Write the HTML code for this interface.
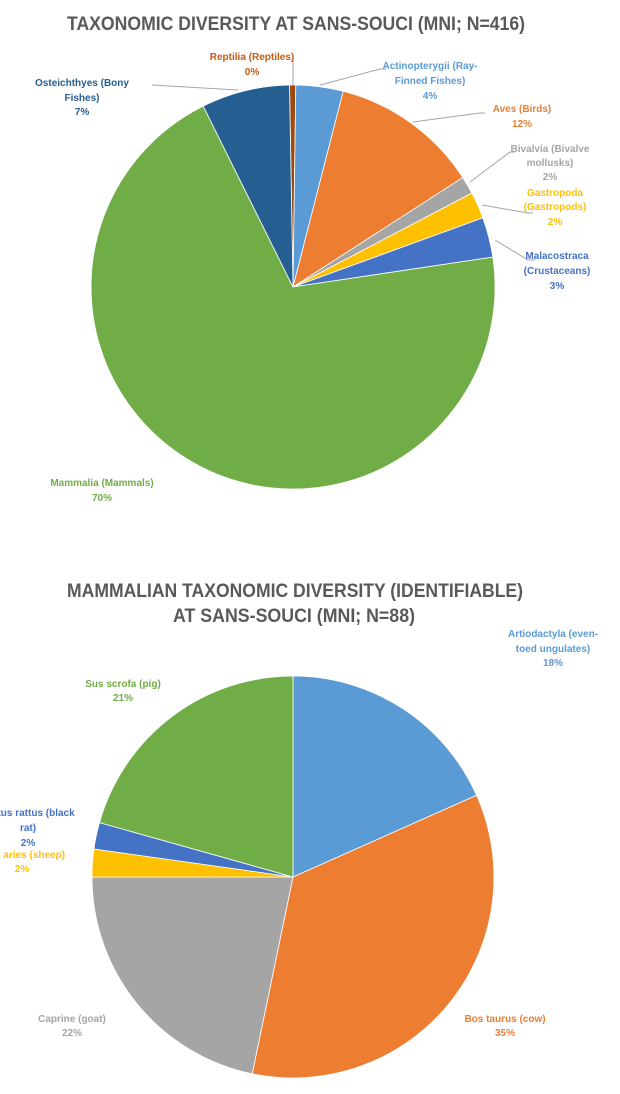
<!DOCTYPE html>
<html><head><meta charset="utf-8"><style>
html,body{margin:0;padding:0;background:#fff;}
svg{display:block;font-family:"Liberation Sans",sans-serif;font-weight:bold;}
</style></head><body>
<svg width="620" height="1094" viewBox="0 0 620 1094" xmlns="http://www.w3.org/2000/svg">
<text x="67" y="30" textLength="458" lengthAdjust="spacingAndGlyphs" font-size="19" fill="#595959">TAXONOMIC DIVERSITY AT SANS-SOUCI (MNI; N=416)</text>
<g stroke="#fff" stroke-width="0.8">
<path d="M293,287 L289.5,85 A202,202 0 0 1 295.8,85 Z" fill="#9e480e"/>
<path d="M293,287 L295.8,85 A202,202 0 0 1 343.2,91.3 Z" fill="#5b9bd5"/>
<path d="M293,287 L343.2,91.3 A202,202 0 0 1 462.8,177.6 Z" fill="#ed7d31"/>
<path d="M293,287 L462.8,177.6 A202,202 0 0 1 471.9,193.1 Z" fill="#a5a5a5"/>
<path d="M293,287 L471.9,193.1 A202,202 0 0 1 482.8,217.9 Z" fill="#ffc000"/>
<path d="M293,287 L482.8,217.9 A202,202 0 0 1 492.8,257.1 Z" fill="#4472c4"/>
<path d="M293,287 L492.8,257.1 A202,202 0 1 1 203.2,106.1 Z" fill="#70ad47"/>
<path d="M293,287 L203.2,106.1 A202,202 0 0 1 289.5,85 Z" fill="#255e91"/>
</g>
<g stroke="#a6a6a6" stroke-width="1" fill="none">
<path d="M293,85 L293,60"/>
<path d="M152,85 L238,90"/>
<path d="M320,85 L380,69 L386,69"/>
<path d="M413,122 L480,113 L485,113"/>
<path d="M470,182 L510,152 L515,152"/>
<path d="M482,205 L528,213 L533,213"/>
<path d="M495,240 L528,260 L535,260"/>
</g>
<g font-size="10" text-anchor="middle">
<text x="252" y="60" fill="#c55a11">Reptilia (Reptiles)</text><text x="252" y="75" fill="#c55a11">0%</text>
<text x="82" y="86" fill="#255e91">Osteichthyes (Bony</text><text x="82" y="101" fill="#255e91">Fishes)</text><text x="82" y="115" fill="#255e91">7%</text>
<text x="430" y="69" fill="#5b9bd5">Actinopterygii (Ray-</text><text x="430" y="84" fill="#5b9bd5">Finned Fishes)</text><text x="430" y="99" fill="#5b9bd5">4%</text>
<text x="522" y="112" fill="#ed7d31">Aves (Birds)</text><text x="522" y="127" fill="#ed7d31">12%</text>
<text x="550" y="152" fill="#a5a5a5">Bivalvia (Bivalve</text><text x="550" y="166" fill="#a5a5a5">mollusks)</text><text x="550" y="180" fill="#a5a5a5">2%</text>
<text x="555" y="196" fill="#ffc000">Gastropoda</text><text x="555" y="210" fill="#ffc000">(Gastropods)</text><text x="555" y="225" fill="#ffc000">2%</text>
<text x="557" y="259" fill="#4472c4">Malacostraca</text><text x="557" y="274" fill="#4472c4">(Crustaceans)</text><text x="557" y="289" fill="#4472c4">3%</text>
<text x="102" y="486" fill="#70ad47">Mammalia (Mammals)</text><text x="102" y="501" fill="#70ad47">70%</text>
</g>

<text x="67" y="597" textLength="456" lengthAdjust="spacingAndGlyphs" font-size="19" fill="#595959">MAMMALIAN TAXONOMIC DIVERSITY (IDENTIFIABLE)</text>
<text x="173" y="622" textLength="242" lengthAdjust="spacingAndGlyphs" font-size="19" fill="#595959">AT SANS-SOUCI (MNI; N=88)</text>
<g stroke="#fff" stroke-width="0.8">
<path d="M293,877 L293,676 A201,201 0 0 1 476.6,795.3 Z" fill="#5b9bd5"/>
<path d="M293,877 L476.6,795.3 A201,201 0 0 1 252.2,1073.8 Z" fill="#ed7d31"/>
<path d="M293,877 L252.2,1073.8 A201,201 0 0 1 92,877 Z" fill="#a5a5a5"/>
<path d="M293,877 L92,877 A201,201 0 0 1 93.9,849 Z" fill="#ffc000"/>
<path d="M293,877 L93.9,849 A201,201 0 0 1 99.5,822.6 Z" fill="#4472c4"/>
<path d="M293,877 L99.5,822.6 A201,201 0 0 1 293,676 Z" fill="#70ad47"/>
</g>
<g font-size="10" text-anchor="middle">
<text x="553" y="637" fill="#5b9bd5">Artiodactyla (even-</text><text x="553" y="652" fill="#5b9bd5">toed ungulates)</text><text x="553" y="666" fill="#5b9bd5">18%</text>
<text x="123" y="687" fill="#70ad47">Sus scrofa (pig)</text><text x="123" y="701" fill="#70ad47">21%</text>
<text x="28" y="816" fill="#4472c4">Rattus rattus (black</text><text x="28" y="831" fill="#4472c4">rat)</text><text x="28" y="846" fill="#4472c4">2%</text>
<text x="22" y="858" fill="#ffc000">Ovis aries (sheep)</text><text x="22" y="872" fill="#ffc000">2%</text>
<text x="72" y="1022" fill="#a5a5a5">Caprine (goat)</text><text x="72" y="1036" fill="#a5a5a5">22%</text>
<text x="505" y="1022" fill="#ed7d31">Bos taurus (cow)</text><text x="505" y="1036" fill="#ed7d31">35%</text>
</g>
</svg>
</body></html>
